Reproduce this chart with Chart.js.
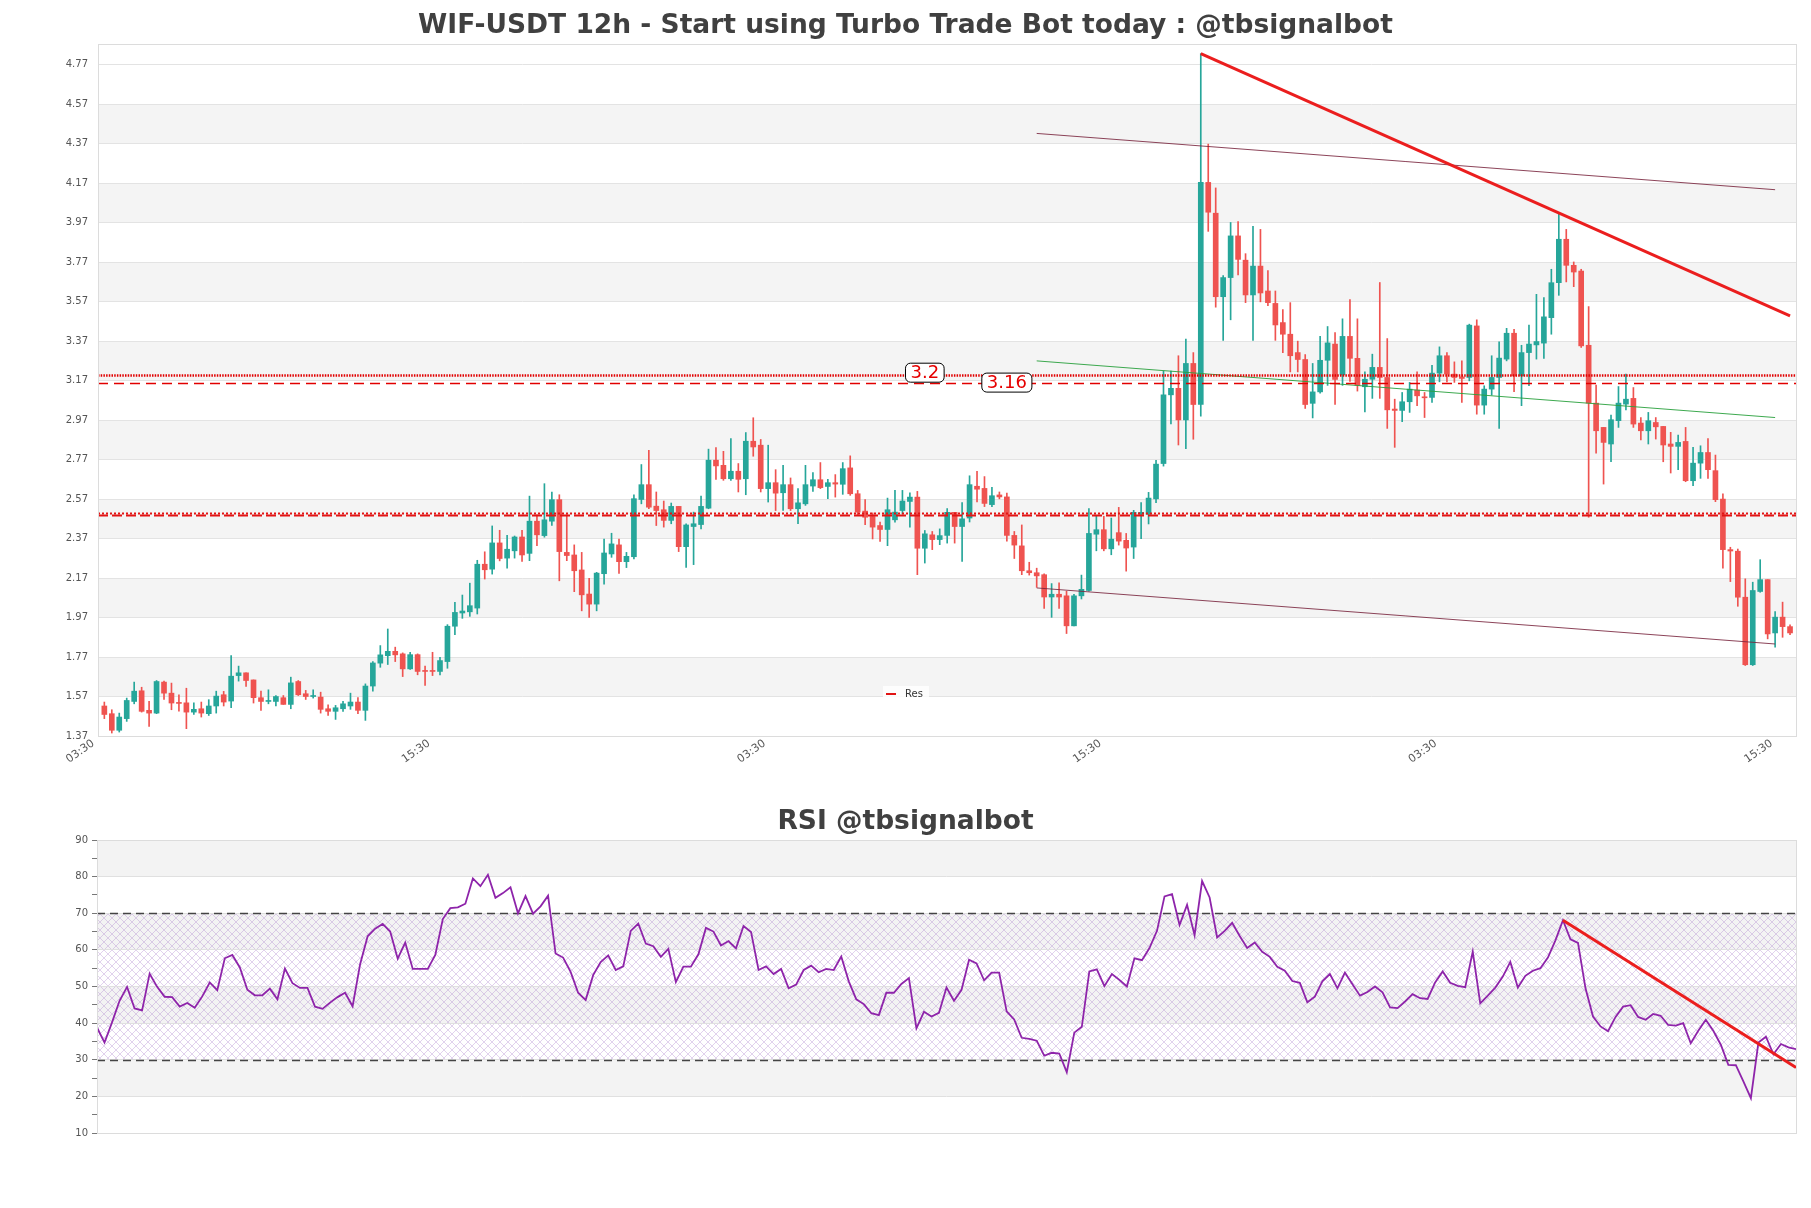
<!DOCTYPE html>
<html><head><meta charset="utf-8">
<script src="https://cdn.jsdelivr.net/npm/chart.js@4.4.0/dist/chart.umd.min.js"></script>
<style>
html,body{margin:0;padding:0;background:#fff;}
#wrap{position:relative;width:1811px;height:1208px;background:#fff;}
.box{position:absolute;left:0;width:1811px;}
</style></head><body>
<div id="wrap">
<div class="box" style="top:0;height:800px;"><canvas id="c1"></canvas></div>
<div class="box" style="top:790px;height:418px;"><canvas id="c2"></canvas></div>
</div>
<script>
// ---------------- DATA ----------------
const candleOpen = [1.522,1.483,1.399,1.458,1.545,1.599,1.500,1.486,1.643,1.587,1.538,1.538,1.491,1.508,1.483,1.522,1.579,1.547,1.676,1.690,1.654,1.564,1.545,1.545,1.564,1.530,1.646,1.584,1.570,1.567,1.508,1.495,1.508,1.522,1.542,1.500,1.623,1.739,1.777,1.799,1.786,1.710,1.782,1.700,1.702,1.697,1.747,1.926,1.993,1.999,2.018,2.240,2.215,2.348,2.271,2.308,2.378,2.295,2.458,2.385,2.458,2.567,2.300,2.287,2.211,2.089,2.038,2.192,2.292,2.338,2.253,2.278,2.568,2.643,2.534,2.516,2.462,2.533,2.329,2.431,2.441,2.524,2.767,2.741,2.673,2.711,2.673,2.863,2.843,2.623,2.653,2.602,2.643,2.521,2.546,2.636,2.668,2.634,2.653,2.645,2.728,2.597,2.509,2.482,2.436,2.416,2.465,2.512,2.558,2.580,2.321,2.389,2.365,2.386,2.503,2.431,2.474,2.635,2.624,2.542,2.591,2.581,2.386,2.333,2.207,2.197,2.187,2.074,2.088,2.080,1.928,2.080,2.107,2.392,2.415,2.318,2.400,2.361,2.327,2.493,2.493,2.571,2.750,3.098,3.131,2.971,3.257,3.049,4.174,4.018,3.595,3.692,3.903,3.780,3.604,3.750,3.624,3.561,3.464,3.405,3.312,3.277,3.055,3.113,3.273,3.355,3.199,3.394,3.283,3.139,3.177,3.237,3.186,3.026,3.019,3.063,3.122,3.088,3.085,3.208,3.296,3.203,3.189,3.186,3.447,3.046,3.127,3.186,3.279,3.410,3.194,3.312,3.351,3.360,3.489,3.666,3.886,3.754,3.725,3.349,3.056,2.933,2.849,2.967,3.051,3.080,2.955,2.916,2.958,2.938,2.849,2.837,2.862,2.663,2.752,2.806,2.714,2.570,2.314,2.306,2.073,1.731,2.102,2.162,1.892,1.972,1.924];
const candleHigh = [1.542,1.503,1.486,1.562,1.643,1.617,1.545,1.651,1.648,1.638,1.579,1.612,1.538,1.542,1.554,1.597,1.596,1.777,1.724,1.690,1.654,1.597,1.604,1.575,1.575,1.668,1.651,1.601,1.604,1.592,1.528,1.525,1.545,1.587,1.564,1.634,1.747,1.828,1.912,1.820,1.791,1.794,1.786,1.724,1.794,1.769,1.934,2.047,2.084,2.144,2.260,2.303,2.434,2.412,2.387,2.383,2.412,2.585,2.490,2.648,2.606,2.592,2.490,2.338,2.300,2.168,2.199,2.368,2.397,2.368,2.300,2.592,2.745,2.817,2.606,2.560,2.550,2.533,2.445,2.504,2.585,2.823,2.831,2.812,2.877,2.750,2.907,2.982,2.872,2.843,2.719,2.741,2.677,2.623,2.741,2.704,2.755,2.670,2.694,2.755,2.789,2.614,2.567,2.500,2.453,2.575,2.614,2.614,2.602,2.609,2.411,2.406,2.419,2.522,2.503,2.552,2.688,2.711,2.684,2.630,2.606,2.601,2.406,2.439,2.250,2.220,2.191,2.142,2.146,2.103,2.088,2.185,2.522,2.483,2.483,2.474,2.528,2.396,2.513,2.552,2.604,2.766,3.218,3.218,3.296,3.380,3.312,4.826,4.368,4.146,3.702,3.971,3.975,3.813,3.951,3.936,3.727,3.624,3.530,3.565,3.370,3.302,3.257,3.394,3.444,3.413,3.483,3.581,3.483,3.215,3.304,3.667,3.383,3.076,3.110,3.161,3.215,3.110,3.248,3.341,3.312,3.265,3.270,3.456,3.478,3.144,3.296,3.366,3.435,3.430,3.349,3.451,3.607,3.591,3.734,4.017,3.936,3.771,3.734,3.545,3.147,2.933,2.995,3.140,3.203,3.135,2.983,3.009,2.983,2.938,2.908,2.894,2.933,2.832,2.840,2.877,2.793,2.596,2.326,2.317,2.166,2.149,2.263,2.162,2.000,2.048,1.933];
const candleLow = [1.458,1.385,1.390,1.444,1.533,1.491,1.419,1.483,1.555,1.503,1.496,1.407,1.479,1.466,1.474,1.486,1.522,1.513,1.648,1.621,1.537,1.500,1.533,1.522,1.530,1.508,1.575,1.555,1.562,1.486,1.474,1.454,1.495,1.505,1.483,1.449,1.597,1.718,1.732,1.747,1.671,1.707,1.680,1.626,1.676,1.680,1.713,1.883,1.966,1.976,1.988,2.165,2.190,2.257,2.220,2.271,2.254,2.258,2.334,2.377,2.436,2.156,2.258,2.101,2.004,1.970,2.004,2.139,2.275,2.194,2.223,2.267,2.546,2.521,2.436,2.428,2.445,2.304,2.224,2.238,2.419,2.521,2.670,2.665,2.665,2.606,2.592,2.787,2.606,2.555,2.512,2.512,2.512,2.445,2.538,2.609,2.623,2.572,2.580,2.594,2.589,2.487,2.441,2.368,2.356,2.334,2.453,2.495,2.428,2.187,2.246,2.314,2.339,2.347,2.347,2.254,2.454,2.556,2.532,2.532,2.571,2.357,2.269,2.187,2.185,2.123,2.016,1.971,2.016,1.889,1.928,2.064,2.103,2.308,2.308,2.288,2.337,2.205,2.269,2.370,2.444,2.552,2.737,2.951,2.844,2.825,2.873,2.990,3.926,3.542,3.374,3.478,3.706,3.565,3.374,3.569,3.550,3.374,3.312,3.214,3.214,3.029,2.981,3.107,3.146,3.049,3.146,3.166,3.117,3.012,3.080,3.080,2.928,2.832,2.962,3.009,3.043,2.983,3.059,3.164,3.164,3.161,3.059,3.169,3.000,3.000,3.097,2.928,3.270,3.114,3.043,3.144,3.279,3.282,3.405,3.602,3.670,3.646,3.338,2.478,2.803,2.646,2.759,2.933,3.022,2.933,2.870,2.849,2.874,2.759,2.702,2.719,2.658,2.638,2.675,2.675,2.557,2.220,2.152,2.027,1.727,1.727,2.098,1.862,1.820,1.870,1.883];
const candleClose = [1.479,1.399,1.466,1.550,1.597,1.495,1.486,1.646,1.587,1.537,1.535,1.491,1.505,1.486,1.522,1.572,1.542,1.673,1.690,1.651,1.564,1.545,1.550,1.570,1.530,1.639,1.579,1.570,1.575,1.505,1.495,1.513,1.533,1.542,1.500,1.623,1.740,1.781,1.799,1.781,1.710,1.782,1.697,1.697,1.697,1.752,1.926,1.996,2.003,2.030,2.240,2.212,2.348,2.269,2.316,2.378,2.287,2.458,2.389,2.465,2.567,2.304,2.284,2.207,2.085,2.038,2.195,2.297,2.343,2.253,2.280,2.572,2.643,2.529,2.512,2.462,2.533,2.329,2.439,2.445,2.533,2.767,2.738,2.673,2.711,2.670,2.863,2.834,2.623,2.653,2.600,2.643,2.521,2.551,2.643,2.668,2.628,2.653,2.646,2.724,2.597,2.504,2.478,2.428,2.416,2.516,2.504,2.560,2.580,2.321,2.394,2.365,2.385,2.503,2.431,2.470,2.643,2.620,2.548,2.587,2.581,2.386,2.337,2.207,2.197,2.181,2.074,2.088,2.074,1.928,2.080,2.113,2.396,2.415,2.318,2.367,2.357,2.322,2.503,2.503,2.575,2.747,3.098,3.131,2.971,3.257,3.049,4.174,4.023,3.595,3.692,3.903,3.784,3.604,3.750,3.614,3.565,3.452,3.405,3.296,3.277,3.049,3.113,3.273,3.361,3.176,3.394,3.283,3.146,3.177,3.237,3.186,3.022,3.019,3.063,3.127,3.093,3.083,3.208,3.296,3.203,3.186,3.181,3.451,3.046,3.127,3.186,3.284,3.410,3.194,3.312,3.355,3.368,3.493,3.666,3.886,3.754,3.720,3.346,3.056,2.916,2.857,2.972,3.056,3.076,2.950,2.916,2.967,2.936,2.844,2.837,2.857,2.663,2.752,2.806,2.719,2.567,2.314,2.307,2.073,1.731,2.107,2.162,1.887,1.972,1.924,1.892];
const rsiValues = [38.8,34.7,40.2,46.1,49.9,44.0,43.5,53.5,49.9,47.2,47.1,44.5,45.5,44.2,47.3,51.1,49.0,57.7,58.6,55.2,49.1,47.6,47.6,49.4,46.5,54.9,50.9,49.6,49.6,44.5,43.9,45.6,47.1,48.3,44.6,56.1,63.7,65.8,67.1,65.0,57.6,62.0,54.8,54.8,54.8,58.6,68.4,71.4,71.6,72.6,79.5,77.4,80.5,74.2,75.5,77.1,70.0,74.7,69.9,71.9,74.8,59.0,57.9,54.0,48.3,46.3,53.1,56.7,58.5,54.5,55.5,65.2,67.2,61.7,61.0,58.1,60.3,51.2,55.4,55.4,58.8,66.0,65.0,61.2,62.4,60.4,66.5,64.9,54.5,55.5,53.4,54.8,49.5,50.5,54.5,55.7,53.9,54.8,54.5,58.2,51.4,46.5,45.2,42.7,42.2,48.3,48.3,50.7,52.3,38.6,43.1,41.8,42.8,49.7,46.1,49.1,57.3,56.3,51.7,53.8,53.8,43.2,41.0,36.0,35.7,35.2,31.1,31.9,31.7,26.6,37.4,39.0,54.1,54.7,50.1,53.4,51.8,50.0,57.7,57.2,60.5,65.2,74.6,75.2,66.8,72.3,64.0,78.8,74.3,63.4,65.2,67.4,63.8,60.5,62.0,59.5,58.1,55.4,54.3,51.5,51.0,45.7,47.2,51.4,53.4,49.5,53.8,50.6,47.5,48.5,50.0,48.4,44.3,44.1,45.9,47.9,46.8,46.6,51.1,54.1,51.0,50.2,49.8,59.5,45.4,47.5,49.7,52.7,56.7,49.7,52.9,54.3,55.0,57.9,62.6,68.1,62.9,61.9,49.5,41.8,39.1,37.8,41.7,44.5,44.9,41.7,40.9,42.5,42.0,39.5,39.3,40.0,34.5,37.9,40.9,37.9,34.1,28.6,28.5,24.1,19.5,34.7,36.3,31.5,34.3,33.4,32.9];

const priceTicks = [1.37,1.57,1.77,1.97,2.17,2.37,2.57,2.77,2.97,3.17,3.37,3.57,3.77,3.97,4.17,4.37,4.57,4.77];
const priceBands = [[1.57,1.77],[1.97,2.17],[2.37,2.57],[2.77,2.97],[3.17,3.37],[3.57,3.77],[3.97,4.17],[4.37,4.57]];
const timeTickIndex = [0,45,90,135,180,225];
const timeTickLabels = ['03:30','15:30','03:30','15:30','03:30','15:30'];

const levelDotted = 3.2;
const levelDashed = 3.16;
const levelRes = [2.4975, 2.4895];
const levelLabelIndex = [110, 121];
const levelLabelText = ['3.2', '3.16'];

const trendMain = [[147, 4.826], [226, 3.498]];
const trendUpper = [[125, 4.422], [224, 4.137]];
const trendMid = [[125, 3.270], [224, 2.983]];
const trendLower = [[125, 2.120], [224, 1.836]];

const rsiBands = [[20,30],[40,50],[60,70],[80,90]];
const rsiZone = [30, 70];
const rsiLevels = [70, 30];
const rsiTrend = [[195, 68.1], [226, 27.9]];

// ---------------- HELPERS ----------------
Chart.defaults.font.family = "'DejaVu Sans', sans-serif";
Chart.defaults.animation = false;
const GREEN = '#26a69a', RED = '#ef5350';
const idx = candleOpen.map((_, i) => i);
const candleColor = idx.map(i => candleClose[i] >= candleOpen[i] ? GREEN : RED);
const pts = arr => arr.map(([x, y]) => ({x, y}));

const mainDecor = {
  id: 'mainDecor',
  beforeDraw(chart) {
    const {ctx, chartArea: a, scales: {y}} = chart;
    ctx.save();
    ctx.fillStyle = '#f4f4f4';
    priceBands.forEach(([lo, hi]) => {
      const y1 = y.getPixelForValue(hi), y2 = y.getPixelForValue(lo);
      ctx.fillRect(a.left, y1, a.right - a.left, y2 - y1);
    });
    ctx.restore();
  },
  afterDatasetsDraw(chart) {
    const {ctx, chartArea: a, scales: {x, y}} = chart;
    ctx.save();
    ctx.beginPath(); ctx.rect(a.left, a.top, a.right - a.left, a.bottom - a.top); ctx.clip();
    const hline = (v, w, dash, color) => {
      const py = Math.round(y.getPixelForValue(v)) + 0.5;
      ctx.beginPath(); ctx.lineWidth = w; ctx.setLineDash(dash); ctx.strokeStyle = color;
      ctx.moveTo(a.left, py); ctx.lineTo(a.right, py); ctx.stroke();
    };
    hline(levelRes[0], 2, [2, 2], 'rgb(225,20,20)');
    hline(levelRes[1], 2, [10, 4], 'rgb(225,20,20)');
    hline(levelDotted, 2.6, [1.5, 1.2], 'rgb(225,0,0)');
    hline(levelDashed, 1.4, [10, 6], 'rgb(225,0,0)');
    ctx.setLineDash([]);
    ctx.font = "18px 'DejaVu Sans'";
    ctx.textAlign = 'center'; ctx.textBaseline = 'middle';
    [levelDotted, levelDashed].forEach((v, k) => {
      const px = x.getPixelForValue(levelLabelIndex[k]);
      const py = y.getPixelForValue(v) - (k === 0 ? 2 : 0);
      const tw = ctx.measureText(levelLabelText[k]).width;
      const w = tw + 10, h = 19;
      ctx.beginPath();
      ctx.roundRect(px - w / 2, py - h / 2, w, h, 5);
      ctx.fillStyle = '#fff'; ctx.fill();
      ctx.lineWidth = 1; ctx.strokeStyle = '#000'; ctx.stroke();
      ctx.fillStyle = 'rgb(230,0,0)';
      ctx.fillText(levelLabelText[k], px, py + 1);
    });
    ctx.restore();
  },
  afterDraw(chart) {
    const {ctx, chartArea: a} = chart;
    ctx.save();
    ctx.strokeStyle = '#dcdcdc'; ctx.lineWidth = 1;
    ctx.strokeRect(Math.round(a.left) + 0.5, Math.round(a.top) + 0.5, Math.round(a.right - a.left), Math.round(a.bottom - a.top));
    const cx = (a.left + a.right) / 2 - 42, cy = a.bottom - 42;
    ctx.fillStyle = 'rgba(255,255,255,0.8)';
    ctx.fillRect(cx - 22, cy - 8, 46, 16);
    ctx.strokeStyle = 'rgb(225,20,20)'; ctx.lineWidth = 2;
    ctx.beginPath(); ctx.moveTo(cx - 19, cy); ctx.lineTo(cx - 9, cy); ctx.stroke();
    ctx.fillStyle = '#333'; ctx.font = "10px 'DejaVu Sans'";
    ctx.textAlign = 'left'; ctx.textBaseline = 'middle';
    ctx.fillText('Res', cx, cy);
    ctx.restore();
  }
};

new Chart(document.getElementById('c1'), {
  type: 'bar',
  data: {
    datasets: [
      { type: 'line', label: 'trend', data: pts(trendMain), borderColor: 'rgb(235,30,30)', borderWidth: 3, pointRadius: 0, order: 0 },
      { type: 'line', label: 'upper', data: pts(trendUpper), borderColor: 'rgba(120,35,60,0.85)', borderWidth: 1, pointRadius: 0, order: 1 },
      { type: 'line', label: 'mid', data: pts(trendMid), borderColor: 'rgba(40,160,60,0.9)', borderWidth: 1, pointRadius: 0, order: 1 },
      { type: 'line', label: 'lower', data: pts(trendLower), borderColor: 'rgba(120,35,60,0.85)', borderWidth: 1, pointRadius: 0, order: 1 },
      { label: 'body', data: idx.map(i => ({x: i, y: [candleOpen[i], candleClose[i]]})), backgroundColor: candleColor, barThickness: 5, minBarLength: 1, grouped: false, order: 2 },
      { label: 'wick', data: idx.map(i => ({x: i, y: [candleLow[i], candleHigh[i]]})), backgroundColor: candleColor, barThickness: 1, grouped: false, order: 3 }
    ]
  },
  options: {
    responsive: true, maintainAspectRatio: false, devicePixelRatio: 1,
    layout: { padding: { left: 15, right: 15, top: 0, bottom: 0 } },
    plugins: {
      legend: { display: false }, tooltip: { enabled: false },
      title: { display: true, text: 'WIF-USDT 12h - Start using Turbo Trade Bot today : @tbsignalbot', color: '#404040',
        font: { size: 26.5, weight: 'bold' }, padding: { top: 9.8, bottom: 2.4 } }
    },
    scales: {
      x: {
        type: 'linear', min: -0.85, max: 226.8, offset: false,
        grid: { display: false, offset: false }, border: { display: false },
        afterBuildTicks: s => { s.ticks = timeTickIndex.map(v => ({ value: v })); },
        afterFit: s => { s.height = 64; },
        ticks: { autoSkip: false, minRotation: 35, maxRotation: 35, color: '#555', font: { size: 11 }, padding: -7, labelOffset: -11,
          callback: v => timeTickLabels[timeTickIndex.indexOf(v)] }
      },
      y: {
        min: 1.37, max: 4.875,
        grid: { color: '#e3e3e3', drawTicks: false }, border: { display: false },
        afterBuildTicks: s => { s.ticks = priceTicks.map(v => ({ value: v })); },
        afterFit: s => { s.width = 83; },
        ticks: { color: '#555', font: { size: 10 }, padding: 10, callback: v => v.toFixed(2) }
      }
    }
  },
  plugins: [mainDecor]
});

// ---------------- RSI ----------------
const hatch = (() => {
  const c = document.createElement('canvas'); c.width = 8; c.height = 8;
  const g = c.getContext('2d');
  g.strokeStyle = 'rgba(170,130,205,0.45)'; g.lineWidth = 0.8;
  g.beginPath(); g.moveTo(0, 0); g.lineTo(8, 8); g.moveTo(8, 0); g.lineTo(0, 8); g.stroke();
  return c;
})();

const rsiDecor = {
  id: 'rsiDecor',
  beforeDraw(chart) {
    const {ctx, chartArea: a, scales: {y}} = chart;
    ctx.save();
    ctx.fillStyle = '#f3f3f3';
    rsiBands.forEach(([lo, hi]) => {
      const y1 = y.getPixelForValue(hi), y2 = y.getPixelForValue(lo);
      ctx.fillRect(a.left, y1, a.right - a.left, y2 - y1);
    });
    const z1 = y.getPixelForValue(rsiZone[1]), z2 = y.getPixelForValue(rsiZone[0]);
    ctx.fillStyle = ctx.createPattern(hatch, 'repeat');
    ctx.fillRect(a.left, z1, a.right - a.left, z2 - z1);
    ctx.restore();
  },
  beforeDatasetsDraw(chart) {
    const {ctx, chartArea: a, scales: {y}} = chart;
    ctx.save();
    ctx.strokeStyle = '#444'; ctx.lineWidth = 1.3; ctx.setLineDash([8, 5]);
    rsiLevels.forEach(v => {
      const py = Math.round(y.getPixelForValue(v)) + 0.5;
      ctx.beginPath(); ctx.moveTo(a.left, py); ctx.lineTo(a.right, py); ctx.stroke();
    });
    ctx.restore();
  },
  afterDraw(chart) {
    const {ctx, chartArea: a} = chart;
    ctx.save();
    ctx.strokeStyle = '#dcdcdc'; ctx.lineWidth = 1;
    ctx.strokeRect(Math.round(a.left) + 0.5, Math.round(a.top) + 0.5, Math.round(a.right - a.left), Math.round(a.bottom - a.top));
    ctx.restore();
  }
};

new Chart(document.getElementById('c2'), {
  type: 'line',
  data: {
    datasets: [
      { label: 'trend', data: pts(rsiTrend), borderColor: 'rgb(235,30,30)', borderWidth: 3, pointRadius: 0, order: 0 },
      { label: 'RSI', data: idx.map(i => ({x: i, y: rsiValues[i]})), borderColor: '#8e24aa', borderWidth: 1.8, pointRadius: 0, tension: 0, order: 1 }
    ]
  },
  options: {
    responsive: true, maintainAspectRatio: false, devicePixelRatio: 1,
    layout: { padding: { left: 15, right: 15, top: 0, bottom: 75 } },
    plugins: {
      legend: { display: false }, tooltip: { enabled: false },
      title: { display: true, text: 'RSI @tbsignalbot', color: '#404040',
        font: { size: 26.5, weight: 'bold' }, padding: { top: 16.4, bottom: 1.8 } }
    },
    scales: {
      x: { type: 'linear', min: 0, max: 226, display: false },
      y: {
        min: 10, max: 90,
        grid: { color: c => (c.tick && c.tick.value % 10 === 0) ? '#e0e0e0' : 'rgba(0,0,0,0)', tickColor: '#777', tickLength: 5 },
        border: { display: false },
        afterFit: s => { s.width = 82; },
        ticks: { stepSize: 5, color: '#555', font: { size: 10 }, padding: 4, autoSkip: false,
          callback: v => (v % 10 === 0 ? String(v) : '') }
      }
    }
  },
  plugins: [rsiDecor]
});
</script>
</body></html>
